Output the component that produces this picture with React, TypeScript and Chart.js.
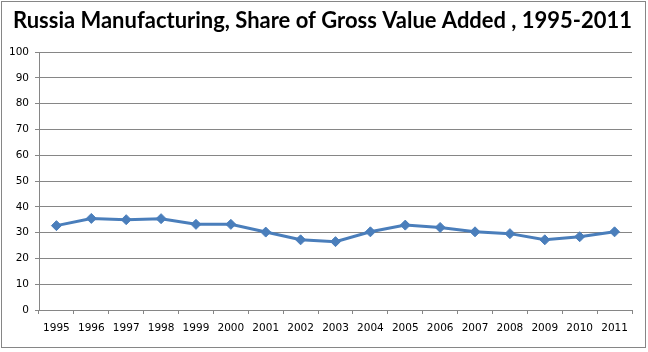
import React, { useEffect, useRef } from "react";
import { Chart, registerables } from "chart.js";

Chart.register(...registerables);

const titleText = "Russia Manufacturing, Share of Gross Value Added , 1995-2011";
const years = ["1995", "1996", "1997", "1998", "1999", "2000", "2001", "2002", "2003", "2004", "2005", "2006", "2007", "2008", "2009", "2010", "2011"];
const shareValues = [32.7, 35.5, 35.0, 35.4, 33.2, 33.2, 30.2, 27.2, 26.5, 30.3, 32.9, 32.0, 30.3, 29.6, 27.2, 28.4, 30.3];
const yMin = 0;
const yMax = 100;
const yStep = 10;

export default function App() {
  const canvasRef = useRef<HTMLCanvasElement | null>(null);

  useEffect(() => {
    document.body.style.margin = "0";
    const canvas = canvasRef.current;
    if (!canvas) return;
    const gridColor = "#868686";
    const lineColor = "#4A7EBB";
    const ctx = canvas.getContext("2d");
    let titleSize = 23;
    if (ctx) {
      ctx.font = "bold 24px Lato";
      const w = ctx.measureText(titleText).width;
      if (w > 0) titleSize = Math.min(24, (24 * 624) / w);
    }
    const titleLine = 28;
    const titleShift = {
      id: "titleShift",
      afterLayout(chart: any) {
        const t = chart.titleBlock;
        if (t) {
          t.left = 13;
          t.right = chart.width - 16;
        }
      },
    };
    const chart = new Chart(canvas, {
      type: "line",
      data: {
        labels: years,
        datasets: [
          {
            data: shareValues,
            borderColor: lineColor,
            backgroundColor: lineColor,
            borderWidth: 3,
            pointStyle: "rectRot",
            pointRadius: 5,
            pointHoverRadius: 5,
            pointBorderWidth: 1,
            pointBorderColor: lineColor,
            pointBackgroundColor: lineColor,
            tension: 0,
          },
        ],
      },
      options: {
        animation: false,
        responsive: false,
        maintainAspectRatio: false,
        layout: { padding: { left: 0, right: 16, top: 0, bottom: 0 } },
        plugins: {
          legend: { display: false },
          tooltip: { enabled: false },
          title: {
            display: true,
            text: titleText,
            color: "#000000",
            font: { family: "Lato", size: titleSize, weight: "bold", lineHeight: titleLine + "px" },
            padding: { top: 7, bottom: 17 },
          },
        },
        scales: {
          x: {
            offset: true,
            grid: {
              offset: true,
              drawOnChartArea: false,
              drawTicks: true,
              tickLength: 4,
              color: gridColor,
            },
            border: { display: true, color: gridColor, width: 1 },
            ticks: {
              color: "#000000",
              font: { family: "DejaVu Sans", size: 10.5 },
              padding: 8,
              maxRotation: 0,
              autoSkip: false,
            },
            afterFit: (scale: any) => {
              scale.height = 42;
            },
          },
          y: {
            min: yMin,
            max: yMax,
            grid: {
              color: gridColor,
              tickLength: 4,
              drawTicks: true,
            },
            border: { display: true, color: gridColor, width: 1 },
            ticks: {
              stepSize: yStep,
              color: "#000000",
              font: { family: "DejaVu Sans", size: 10.5 },
              padding: 6,
            },
            afterFit: (scale: any) => {
              scale.width = 39;
            },
          },
        },
      },
      plugins: [titleShift],
    });
    return () => chart.destroy();
  }, []);

  return (
    <div style={{ position: "relative", width: 648, height: 352, background: "#ffffff" }}>
      <canvas ref={canvasRef} width={648} height={352} style={{ position: "absolute", left: 0, top: 0, width: 648, height: 352 }} />
      <div
        style={{
          position: "absolute",
          left: 1,
          top: 1,
          width: 643,
          height: 345,
          border: "1px solid #868686",
          pointerEvents: "none",
        }}
      />
    </div>
  );
}
